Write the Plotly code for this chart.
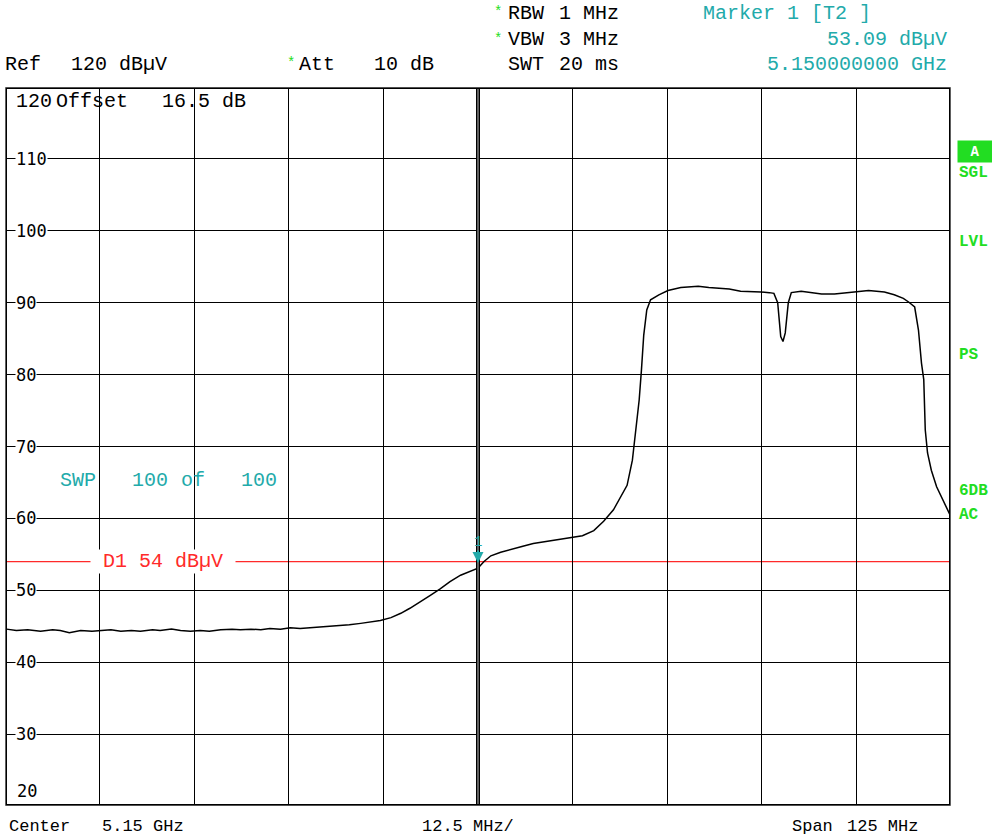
import plotly.graph_objects as go

# ---------------- data ----------------
freq_mhz = [5087.7, 5089.0, 5090.5, 5092.2, 5093.8, 5094.8, 5096.0, 5097.5, 5099.0, 5100.1,
            5101.5, 5102.8, 5104.2, 5105.4, 5107.0, 5108.0, 5109.5, 5110.7, 5112.0, 5113.3,
            5114.5, 5116.0, 5117.5, 5118.6, 5120.0, 5121.3, 5122.5, 5123.9, 5125.2, 5126.5,
            5128.0, 5129.2, 5130.5, 5131.8, 5133.0, 5134.5, 5135.8, 5137.1, 5138.5, 5139.8,
            5141.0, 5142.4, 5143.7, 5145.0, 5146.3, 5147.7, 5149.0, 5150.0, 5150.8, 5151.7,
            5153.0, 5154.3, 5155.8, 5157.3, 5158.5, 5159.6, 5161.0, 5162.5, 5163.8, 5165.3,
            5166.6, 5167.9, 5168.8, 5169.7, 5170.4, 5170.9, 5171.3, 5171.6, 5171.9, 5172.3,
            5172.8, 5173.9, 5175.1, 5176.8, 5179.1, 5180.5, 5181.7, 5183.2, 5184.7, 5186.0,
            5187.4, 5188.5, 5189.1, 5189.6, 5190.0, 5190.3, 5190.6, 5191.0, 5191.4, 5192.7,
            5194.0, 5195.4, 5197.1, 5198.5, 5199.7, 5201.6, 5203.7, 5205.0, 5206.2, 5206.9,
            5207.7, 5208.2, 5208.6, 5208.9, 5209.1, 5209.4, 5209.9, 5210.6, 5211.2, 5211.9,
            5212.5]
level_dbuv = [44.6, 44.4, 44.5, 44.3, 44.5, 44.4, 44.1, 44.4, 44.3, 44.4,
              44.5, 44.3, 44.4, 44.3, 44.5, 44.4, 44.6, 44.4, 44.3, 44.4,
              44.3, 44.5, 44.6, 44.5, 44.6, 44.5, 44.7, 44.6, 44.8, 44.7,
              44.8, 44.9, 45.0, 45.1, 45.2, 45.4, 45.6, 45.8, 46.2, 46.8,
              47.5, 48.4, 49.3, 50.2, 51.2, 52.1, 52.6, 53.09, 54.0, 54.8,
              55.3, 55.7, 56.1, 56.5, 56.7, 56.9, 57.1, 57.3, 57.6, 58.3,
              59.6, 61.2, 62.8, 64.6, 68.1, 72.3, 76.5, 80.7, 85.5, 89.0,
              90.4, 91.1, 91.7, 92.1, 92.3, 92.1, 92.0, 91.9, 91.6, 91.6,
              91.5, 91.4, 91.3, 90.0, 85.3, 84.6, 85.8, 90.0, 91.4, 91.6,
              91.4, 91.2, 91.2, 91.4, 91.5, 91.7, 91.5, 91.1, 90.6, 90.1,
              89.4, 86.2, 81.6, 79.3, 72.3, 69.1, 66.7, 64.4, 63.0, 61.6,
              60.2]

center_mhz = 5150.0
span_mhz = 125.0
div_mhz = 12.5
y_min, y_max = 20, 120
y_ticks = [110, 100, 90, 80, 70, 60, 50, 40, 30]
display_line_db = 54
marker_freq = 5150.0
marker_level = 53.09

# ---------------- layout helpers ----------------
W, H = 992, 839
ML, MR, MT, MB = 5, 41, 87, 33
PW, PH = W - ML - MR, H - MT - MB

def px(x):
    return (x - ML) / PW

def py(y):
    return (H - MB - y) / PH

TEAL = "#22aaaa"
GREEN = "#22dd22"
RED = "#ff2a2a"
MONO = "Liberation Mono"
SMONO = "DejaVu Sans Mono"

x0 = center_mhz - span_mhz / 2
x1 = center_mhz + span_mhz / 2

fig = go.Figure()

fig.add_trace(go.Scatter(x=freq_mhz, y=level_dbuv, mode="lines",
                         line=dict(color="black", width=1.5),
                         hoverinfo="skip", showlegend=False))

shapes = []
shapes.append(dict(type="line", xref="x", yref="y", x0=x0, x1=x1,
                   y0=display_line_db, y1=display_line_db,
                   line=dict(color=RED, width=1.3), layer="below"))
for w, c in [(4, "black"), (1.2, "#a0a0a0")]:
    shapes.append(dict(type="line", xref="x", yref="y", x0=center_mhz, x1=center_mhz,
                       y0=y_min, y1=y_max, line=dict(color=c, width=w), layer="above"))
for w, c in [(4, "black"), (1.2, "#a0a0a0")]:
    shapes.append(dict(type="rect", xref="x", yref="y", x0=x0, x1=x1, y0=y_min, y1=y_max,
                       line=dict(color=c, width=w), layer="above"))

ann = []

def txt(t, x, y, color="black", size=20, family=MONO, anchor="left", bg=None, bold=False):
    d = dict(text=("<b>%s</b>" % t) if bold else t, xref="paper", yref="paper",
             x=px(x), y=py(y), xanchor=anchor, yanchor="middle", showarrow=False,
             font=dict(family=family, size=size, color=color), borderpad=0)
    if bg:
        d["bgcolor"] = bg
    ann.append(d)

# header
txt("Ref", 4, 65)
txt("120 dBµV", 70, 65)
txt("*", 286, 63, color=GREEN, size=14)
txt("Att", 298, 65)
txt("10 dB", 373, 65)
txt("*", 493, 12, color=GREEN, size=14)
txt("RBW", 507, 13)
txt("1 MHz", 558, 13)
txt("*", 493, 39, color=GREEN, size=14)
txt("VBW", 507, 40)
txt("3 MHz", 558, 40)
txt("SWT", 507, 65)
txt("20 ms", 558, 65)
txt("Marker 1 [T2 ]", 702, 14, color=TEAL)
txt("53.09 dBµV", 948, 40, color=TEAL, anchor="right")
txt("5.150000000 GHz", 948, 65, color=TEAL, anchor="right")

# inside plot
txt("120", 15, 102)
txt("Offset", 55, 102)
txt("16.5 dB", 161, 102)
txt("20", 16, 791, family=SMONO, size=17)
for v in y_ticks:
    yy = MT + (y_max - v) / (y_max - y_min) * PH
    txt(str(v), 15, yy, family=SMONO, size=17, bg="white")
txt("SWP", 59, 480, color=TEAL)
txt("100", 131, 480, color=TEAL)
txt("of", 180, 480, color=TEAL)
txt("100", 240, 480, color=TEAL)
txt(" D1 54 dBµV ", 90, 561, color=RED, bg="white")

# bottom
txt("Center", 8, 826, size=17)
txt("5.15 GHz", 101, 826, size=17)
txt("12.5 MHz/", 421, 826, size=17)
txt("Span", 791, 826, size=17)
txt("125 MHz", 846, 826, size=17)

# right side status
ann.append(dict(text="<b>A</b>", xref="paper", yref="paper", x=px(975), y=py(151),
                xanchor="center", yanchor="middle", showarrow=False, bgcolor=GREEN,
                width=32, height=19, font=dict(family=MONO, size=14, color="white")))
for t, yy in [("SGL", 173), ("LVL", 242), ("PS", 355), ("6DB", 491), ("AC", 515)]:
    txt(t, 958, yy, color=GREEN, size=16, bold=True)

# marker 1
ann.append(dict(text="", xref="x", yref="y", x=marker_freq, y=marker_level,
                ax=0, ay=-14, showarrow=True, arrowhead=2, arrowsize=1.1, arrowwidth=2,
                arrowcolor=TEAL, standoff=0, yshift=5))
ann.append(dict(text="1", xref="x", yref="y", x=marker_freq, y=marker_level,
                showarrow=False, yshift=26, xanchor="center", yanchor="middle",
                font=dict(family=MONO, size=14, color=TEAL)))

fig.update_layout(
    width=W, height=H,
    margin=dict(l=ML, r=MR, t=MT, b=MB),
    paper_bgcolor="white", plot_bgcolor="white",
    shapes=shapes, annotations=ann,
    xaxis=dict(range=[x0, x1], tick0=x0, dtick=div_mhz, showticklabels=False,
               showgrid=True, gridcolor="black", gridwidth=1.2, zeroline=False,
               ticks="", fixedrange=True),
    yaxis=dict(range=[y_min, y_max], tick0=y_min, dtick=10, showticklabels=False,
               showgrid=True, gridcolor="black", gridwidth=1.2, zeroline=False,
               ticks="", fixedrange=True),
    showlegend=False,
)

fig.write_html("out.html", config={"displayModeBar": False},
               post_script="document.body.style.margin='0';document.body.style.overflow='hidden';")
